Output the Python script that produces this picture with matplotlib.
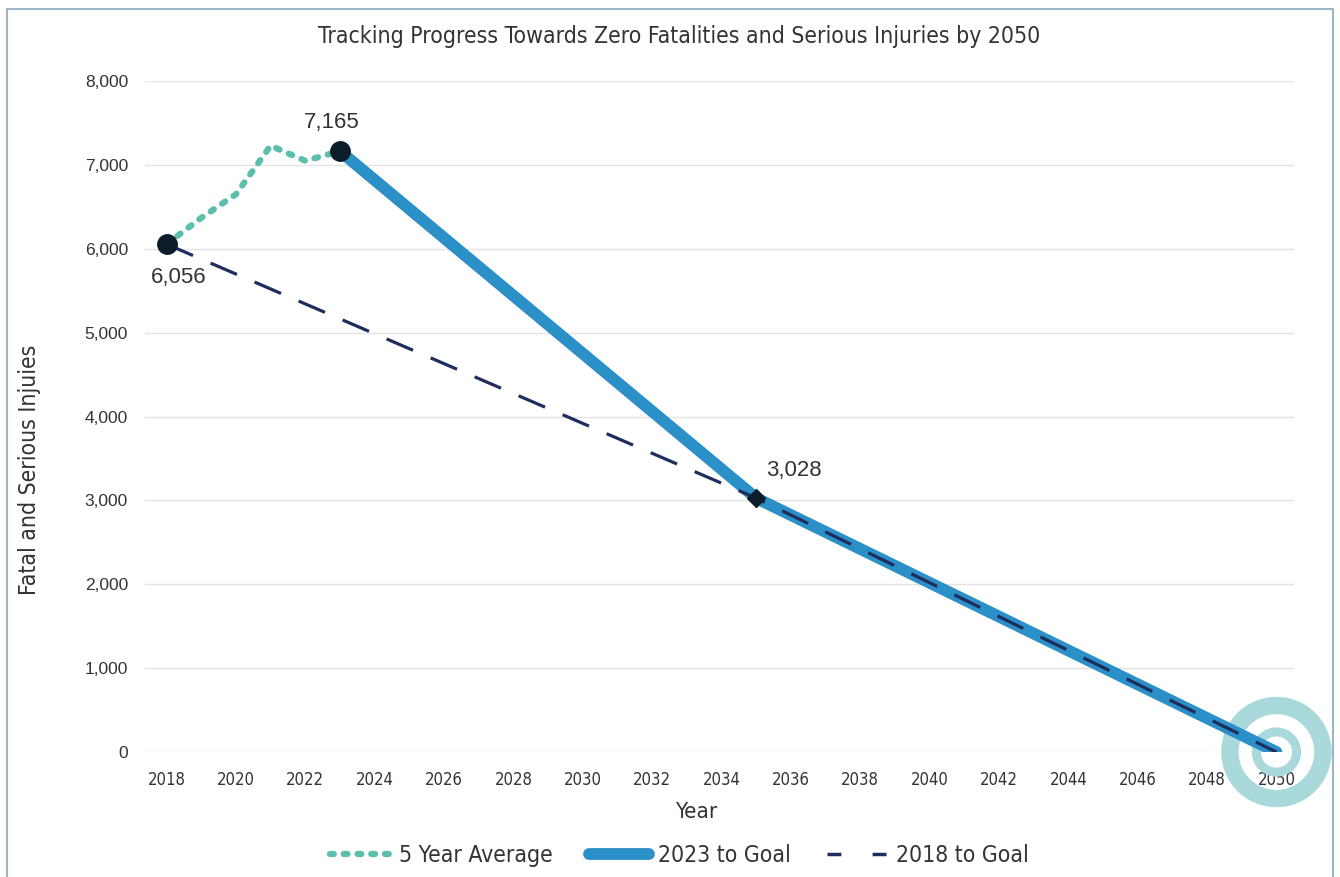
import matplotlib.pyplot as plt
from matplotlib.patches import Rectangle
from matplotlib.lines import Line2D

# data
avg_years = [2018, 2019, 2020, 2021, 2022, 2023]
avg_values = [6056, 6370, 6650, 7230, 7050, 7165]

goal2023_years = [2023, 2035, 2050]
goal2023_values = [7165, 3028, 0]

goal2018_years = [2018, 2035, 2050]
goal2018_values = [6056, 3028, 0]

xticks = list(range(2018, 2051, 2))
yticks = list(range(0, 8001, 1000))

narrow = {'family': 'DejaVu Sans', 'stretch': 'condensed'}
normal = ['Liberation Sans', 'DejaVu Sans']

teal = '#5cbfae'
blue = '#2b8fc8'
navy = '#1f2d5e'
ring = '#a9d9da'
dark = '#0c1c2b'
txt = '#333333'

fig = plt.figure(figsize=(13.4, 8.77), dpi=100)
ax = fig.add_axes([0.108, 0.1425, 0.858, 0.765])

# figure border
fig.patches.append(Rectangle((0.005, -0.01), 0.99, 1.0, transform=fig.transFigure,
                             fill=False, edgecolor='#9fb4c4', linewidth=1.5))

ax.plot(goal2018_years, goal2018_values, color=navy, lw=2.3, dashes=(9, 6), zorder=3)
ax.plot(goal2023_years, goal2023_values, color=blue, lw=8.5, solid_capstyle='round', zorder=2)
ax.plot(avg_years, avg_values, color=teal, lw=4.5, dashes=(0.6, 1.6),
        dash_capstyle='round', zorder=4)

# markers
ax.plot([2018, 2023], [6056, 7165], 'o', color=dark, ms=14, zorder=5)
ax.plot([2035], [3028], 'D', color=dark, ms=9, zorder=5)

# target rings at 2050
ax.scatter([2050], [0], s=67**2, facecolors='none', edgecolors=ring, linewidths=12.5,
           zorder=1, clip_on=False)
ax.scatter([2050], [0], s=29**2, facecolors='none', edgecolors=ring, linewidths=6.5,
           zorder=1, clip_on=False)

ax.text(2023 - 0.25, 7165 + 340, "7,165", ha='center', va='center', fontsize=16,
        color=txt, family=normal)
ax.text(2018 + 0.35, 6056 - 400, "6,056", ha='center', va='center', fontsize=16,
        color=txt, family=normal)
ax.text(2036.1, 3028 + 330, "3,028", ha='center', va='center', fontsize=16,
        color=txt, family=normal)

ax.set_xlim(2017.37, 2050.52)
ax.set_ylim(0, 8000)
ax.set_xticks(xticks)
ax.set_yticks(yticks)
ax.set_yticklabels([f"{v:,}" for v in yticks], family=normal, fontsize=12.5, color=txt)
ax.set_xticklabels([str(v) for v in xticks], fontsize=12, color=txt, **narrow)
ax.tick_params(length=0)
ax.tick_params(axis='x', pad=14)
ax.tick_params(axis='y', pad=12)
ax.grid(axis='y', color='#e3e3e3', lw=1)
ax.set_axisbelow(True)
for s in ax.spines.values():
    s.set_visible(False)

ax.set_xlabel('Year', fontsize=16, color=txt, **narrow)
ax.xaxis.set_label_coords(0.48, -0.075)
ax.set_ylabel('Fatal and Serious Injuies', fontsize=16.5, color=txt, **narrow)
ax.yaxis.set_label_coords(-0.09, 0.42)
fig.text(0.507, 0.958, 'Tracking Progress Towards Zero Fatalities and Serious Injuries by 2050',
         ha='center', va='center', fontsize=16.5, color=txt, **narrow)

# legend proxies (handle styles differ a bit from the plotted lines)
handles = [
    Line2D([], [], color=teal, lw=4.5, dashes=(0.6, 1.6), dash_capstyle='round'),
    Line2D([], [], color=blue, lw=8.5, solid_capstyle='round'),
    Line2D([], [], color=navy, lw=2.5, dashes=(4, 9)),
]
labels = ['5 Year Average', '2023 to Goal', '2018 to Goal']
leg = fig.legend(handles, labels, loc='center',
                 bbox_to_anchor=(0.507, 0.025), ncol=3, frameon=False,
                 prop={'size': 16.5, **narrow}, handlelength=2.6,
                 columnspacing=1.6, handletextpad=0.4)
for t in leg.get_texts():
    t.set_color(txt)

fig.savefig('out.png', dpi=100)
